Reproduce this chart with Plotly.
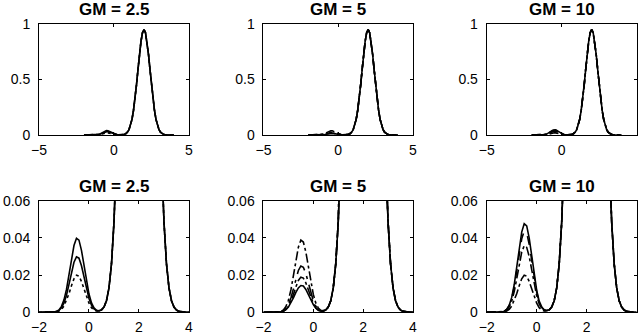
import plotly.graph_objects as go

# x grid: bump region (left) and main peak region (right)
x_left = [-2.0, -1.6, -1.5, -1.4, -1.3, -1.2, -1.1, -1.0, -0.9, -0.8, -0.7, -0.6,
          -0.5, -0.4, -0.3, -0.2, -0.1, 0.0, 0.1, 0.2, 0.3, 0.4, 0.5, 0.6]
x_right = [0.7, 0.8, 0.9, 1.0, 1.1, 1.2, 1.3, 1.4, 1.5, 1.6, 1.7, 1.8, 1.9, 2.0,
           2.1, 2.2, 2.3, 2.4, 2.5, 2.6, 2.7, 2.8, 2.9, 3.0, 3.1, 3.2, 3.3, 3.4,
           3.5, 3.6, 3.7, 3.8, 3.9, 4.0]

# main peak, shared by every curve
main_peak = [0.0062, 0.0131, 0.026, 0.0485, 0.0853, 0.141, 0.221, 0.325, 0.451,
             0.590, 0.727, 0.843, 0.922, 0.950, 0.922, 0.843, 0.727, 0.590, 0.451,
             0.325, 0.221, 0.141, 0.0853, 0.0485, 0.026, 0.0131, 0.0062, 0.0028,
             0.0012, 0.0005, 0.0002, 0.0001, 0.0, 0.0]

# small bump near x = -0.5, one list per curve
gm25_a = [0, 0, 0, 0.0002, 0.0005, 0.0013, 0.0032, 0.0067, 0.0123, 0.0200, 0.0286, 0.0359,
          0.0398, 0.0388, 0.0333, 0.0252, 0.0167, 0.0098, 0.0050, 0.0024, 0.0011, 0.0008, 0.0013, 0.0028]
gm25_b = [0, 0, 0, 0.0001, 0.0004, 0.0010, 0.0024, 0.0050, 0.0092, 0.0150, 0.0214, 0.0269,
          0.0298, 0.0291, 0.0250, 0.0189, 0.0125, 0.0074, 0.0038, 0.0018, 0.0009, 0.0007, 0.0013, 0.0028]
gm25_c = [0, 0, 0, 0.0001, 0.0002, 0.0007, 0.0016, 0.0033, 0.0062, 0.0100, 0.0143, 0.0180,
          0.0199, 0.0194, 0.0166, 0.0126, 0.0084, 0.0049, 0.0025, 0.0012, 0.0007, 0.0007, 0.0012, 0.0028]

gm5_a = [0, 0, 0, 0.0002, 0.0005, 0.0013, 0.0031, 0.0065, 0.0120, 0.0195, 0.0278, 0.0350,
         0.0388, 0.0378, 0.0324, 0.0245, 0.0163, 0.0096, 0.0049, 0.0023, 0.0011, 0.0008, 0.0013, 0.0028]
gm5_b = [0, 0, 0, 0.0001, 0.0003, 0.0008, 0.0020, 0.0042, 0.0077, 0.0125, 0.0179, 0.0225,
         0.0249, 0.0242, 0.0208, 0.0157, 0.0105, 0.0061, 0.0032, 0.0015, 0.0008, 0.0007, 0.0013, 0.0028]
gm5_c = [0, 0, 0, 0.0001, 0.0002, 0.0006, 0.0015, 0.0032, 0.0059, 0.0095, 0.0136, 0.0171,
         0.0189, 0.0184, 0.0158, 0.0120, 0.0079, 0.0047, 0.0024, 0.0012, 0.0006, 0.0007, 0.0012, 0.0028]
gm5_d = [0, 0, 0, 0.0001, 0.0002, 0.0006, 0.0014, 0.0028, 0.0050, 0.0078, 0.0107, 0.0131,
         0.0144, 0.0141, 0.0123, 0.0095, 0.0066, 0.0041, 0.0022, 0.0011, 0.0006, 0.0006, 0.0012, 0.0028]

gm10_a = [0, 0, 0, 0.0002, 0.0006, 0.0016, 0.0038, 0.0080, 0.0148, 0.0240, 0.0343, 0.0431,
          0.0477, 0.0465, 0.0399, 0.0302, 0.0201, 0.0118, 0.0060, 0.0029, 0.0013, 0.0009, 0.0013, 0.0028]
gm10_b = [0, 0, 0, 0.0002, 0.0005, 0.0015, 0.0035, 0.0073, 0.0136, 0.0220, 0.0314, 0.0395,
          0.0437, 0.0426, 0.0366, 0.0277, 0.0184, 0.0108, 0.0055, 0.0026, 0.0012, 0.0009, 0.0013, 0.0028]
gm10_c = [0, 0, 0, 0.0001, 0.0004, 0.0012, 0.0029, 0.0060, 0.0111, 0.0180, 0.0257, 0.0323,
          0.0358, 0.0349, 0.0300, 0.0226, 0.0150, 0.0088, 0.0045, 0.0022, 0.0010, 0.0008, 0.0013, 0.0028]
gm10_d = [0, 0, 0, 0.0001, 0.0002, 0.0007, 0.0016, 0.0033, 0.0062, 0.0100, 0.0143, 0.0180,
          0.0199, 0.0194, 0.0166, 0.0126, 0.0084, 0.0049, 0.0025, 0.0012, 0.0007, 0.0007, 0.0012, 0.0028]

titles = ["GM = 2.5", "GM = 5", "GM = 10"]
panels = [
    [(gm25_a, "solid"), (gm25_b, "solid"), (gm25_c, "dot")],
    [(gm5_a, "dashdot"), (gm5_b, "longdashdot"), (gm5_c, "dashdot"), (gm5_d, "solid")],
    [(gm10_a, "solid"), (gm10_b, "dash"), (gm10_c, "dashdot"), (gm10_d, "dashdot")],
]

x_all = x_left + x_right
font = "Arial, Liberation Sans, sans-serif"

x_dom = [[0.0609, 0.2953], [0.4117, 0.6453], [0.7605, 0.9948]]
y_dom = [[0.597, 0.9284], [0.0678, 0.4009]]

fig = go.Figure()
layout = {}
annotations = []
for row in range(2):
    for col in range(3):
        n = row * 3 + col + 1
        xa = "x" if n == 1 else f"x{n}"
        ya = "y" if n == 1 else f"y{n}"
        for bump, dash in panels[col]:
            fig.add_trace(go.Scatter(
                x=x_all, y=bump + main_peak, mode="lines",
                line=dict(color="black", width=1.6, dash=dash),
                xaxis=xa, yaxis=ya, showlegend=False, hoverinfo="skip",
            ))
        axis_common = dict(
            showline=True, linecolor="black", linewidth=1, mirror="ticks",
            ticks="inside", ticklen=3, tickcolor="black", showgrid=False,
            zeroline=False, automargin=False,
            tickfont=dict(family=font, size=14, color="black"),
        )
        layout[f"xaxis{n}"] = dict(
            axis_common, domain=x_dom[col], anchor=ya, ticklabelstandoff=2,
            range=[-5, 5] if row == 0 else [-2, 4], dtick=5 if row == 0 else 2,
        )
        layout[f"yaxis{n}"] = dict(
            axis_common, domain=y_dom[row], anchor=xa, ticklabelstandoff=5,
            range=[0, 1] if row == 0 else [0, 0.06], dtick=0.5 if row == 0 else 0.02,
        )
        annotations.append(dict(
            text=f"<b>{titles[col]}</b>", xref="paper", yref="paper",
            x=sum(x_dom[col]) / 2, y=y_dom[row][1], yshift=3,
            xanchor="center", yanchor="bottom", showarrow=False,
            font=dict(family=font, size=17, color="black"),
        ))

fig.update_layout(
    template="none",
    width=640, height=335, margin=dict(l=0, r=0, t=0, b=0, autoexpand=False),
    paper_bgcolor="white", plot_bgcolor="white",
    annotations=annotations, **layout,
)

fig.write_html("out.html", config={"displayModeBar": False},
               post_script="document.body.style.margin='0';")
